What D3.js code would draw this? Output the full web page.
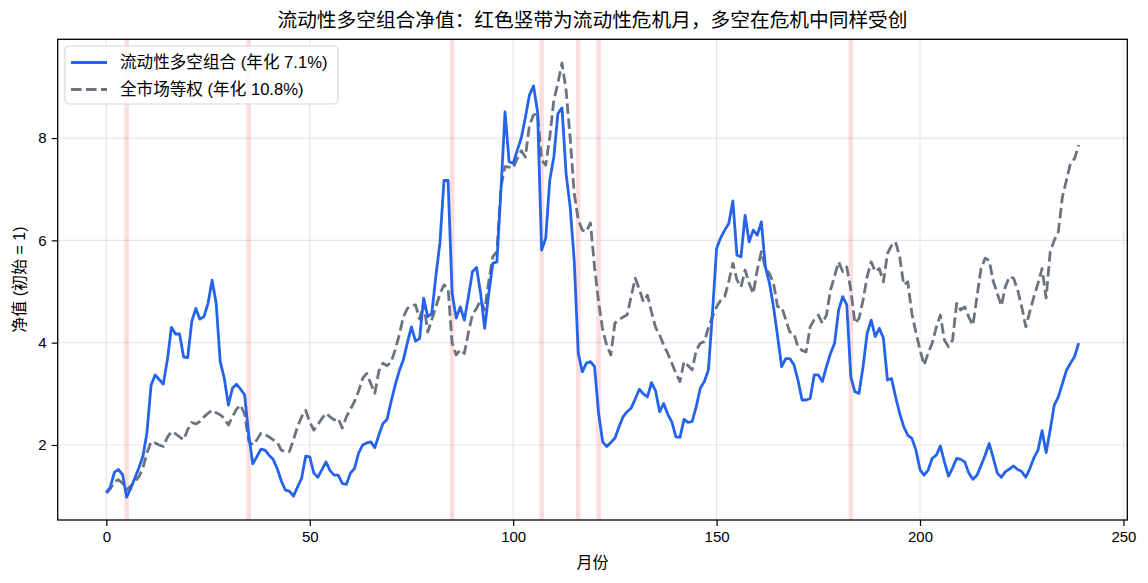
<!DOCTYPE html>
<html>
<head>
<meta charset="utf-8">
<script src="https://cdn.jsdelivr.net/npm/d3@7"></script>
<style>
  body { margin: 0; background: #fff; }
  svg text { font-family: "Liberation Sans", "Noto Sans CJK SC", sans-serif; }
</style>
</head>
<body>
<svg id="chart" width="1148" height="583"></svg>
<script>
// liquidity long-short portfolio net value, month 0..239
const liqLS = [
  1.07, 1.18, 1.47, 1.52, 1.42, 0.98, 1.15, 1.35, 1.55, 1.78,
  2.25, 3.17, 3.37, 3.28, 3.19, 3.66, 4.30, 4.17, 4.17, 3.72,
  3.71, 4.41, 4.67, 4.46, 4.51, 4.77, 5.22, 4.77, 3.63, 3.30,
  2.78, 3.11, 3.19, 3.09, 2.98, 2.20, 1.63, 1.77, 1.92, 1.90,
  1.80, 1.72, 1.54, 1.30, 1.12, 1.10, 1.00, 1.18, 1.35, 1.78,
  1.77, 1.45, 1.37, 1.52, 1.67, 1.50, 1.41, 1.41, 1.25, 1.23,
  1.45, 1.54, 1.84, 2.00, 2.04, 2.06, 1.95, 2.20, 2.42, 2.50,
  2.85, 3.17, 3.45, 3.66, 4.00, 4.31, 4.03, 4.08, 4.87, 4.51,
  4.57, 5.30, 5.95, 7.17, 7.17, 4.96, 4.48, 4.70, 4.44, 4.90,
  5.39, 5.47, 4.96, 4.28, 4.96, 5.55, 5.58, 6.98, 8.51, 7.54,
  7.50, 7.76, 8.00, 8.40, 8.84, 9.02, 8.51, 5.81, 6.04, 7.18,
  7.63, 8.48, 8.59, 7.31, 6.66, 5.61, 3.79, 3.43, 3.60, 3.63,
  3.53, 2.62, 2.06, 1.97, 2.05, 2.13, 2.35, 2.55, 2.65, 2.72,
  2.90, 3.09, 3.00, 2.94, 3.22, 3.06, 2.65, 2.81, 2.60, 2.45,
  2.16, 2.15, 2.50, 2.44, 2.46, 2.75, 3.11, 3.24, 3.47, 4.60,
  5.84, 6.05, 6.20, 6.33, 6.77, 5.71, 5.68, 6.49, 5.97, 6.20,
  6.10, 6.36, 5.48, 5.16, 4.70, 4.12, 3.53, 3.69, 3.69, 3.57,
  3.27, 2.88, 2.88, 2.91, 3.37, 3.37, 3.24, 3.53, 3.79, 3.99,
  4.64, 4.90, 4.74, 3.33, 3.04, 3.01, 3.53, 4.18, 4.44, 4.12,
  4.28, 4.09, 3.27, 3.30, 2.94, 2.62, 2.36, 2.19, 2.13, 1.90,
  1.52, 1.41, 1.51, 1.74, 1.80, 1.98, 1.67, 1.39, 1.55, 1.74,
  1.72, 1.67, 1.45, 1.33, 1.41, 1.60, 1.80, 2.03, 1.75, 1.45,
  1.37, 1.48, 1.53, 1.59, 1.52, 1.48, 1.37, 1.54, 1.75, 1.90,
  2.28, 1.85, 2.30, 2.78, 2.94, 3.20, 3.46, 3.60, 3.73, 3.99
];

// equal-weight market net value, month 0..239
const mktEW = [
  1.06, 1.15, 1.28, 1.32, 1.25, 1.12, 1.20, 1.28, 1.38, 1.55,
  1.85, 2.06, 2.04, 2.00, 1.97, 2.15, 2.26, 2.22, 2.16, 2.10,
  2.30, 2.44, 2.41, 2.46, 2.55, 2.62, 2.68, 2.63, 2.59, 2.52,
  2.39, 2.55, 2.70, 2.78, 2.60, 2.08, 2.00, 2.10, 2.23, 2.20,
  2.16, 2.10, 2.06, 1.90, 1.87, 1.87, 2.10, 2.36, 2.55, 2.68,
  2.45, 2.29, 2.40, 2.52, 2.62, 2.55, 2.49, 2.52, 2.33, 2.55,
  2.70, 2.85, 3.05, 3.30, 3.40, 3.20, 3.01, 3.45, 3.60, 3.55,
  3.62, 3.86, 4.15, 4.50, 4.67, 4.72, 4.74, 4.46, 4.77, 4.21,
  4.45, 4.70, 4.95, 5.13, 5.06, 3.99, 3.76, 3.86, 3.79, 4.20,
  4.55, 4.67, 4.83, 4.64, 5.20, 5.68, 5.78, 7.05, 7.44, 7.43,
  7.41, 7.60, 7.75, 7.63, 8.25, 8.45, 8.48, 7.57, 7.47, 8.02,
  8.74, 9.07, 9.47, 8.94, 8.02, 6.92, 6.40, 6.20, 6.17, 6.34,
  5.48, 4.80, 4.25, 3.95, 3.76, 4.38, 4.45, 4.50, 4.54, 4.90,
  5.26, 5.05, 4.80, 4.93, 4.60, 4.30, 4.15, 3.95, 3.79, 3.60,
  3.40, 3.24, 3.63, 3.55, 3.47, 3.85, 3.99, 4.02, 4.30, 4.51,
  4.70, 4.83, 4.90, 5.20, 5.55, 5.23, 5.09, 5.42, 5.16, 4.96,
  5.42, 5.78, 5.45, 5.35, 5.16, 4.70, 4.70, 4.45, 4.21, 4.18,
  3.92, 3.85, 3.82, 4.31, 4.45, 4.54, 4.38, 4.54, 5.03, 5.30,
  5.58, 5.39, 5.48, 5.03, 4.38, 4.47, 4.83, 5.29, 5.58, 5.39,
  5.45, 5.19, 5.74, 5.90, 5.97, 5.68, 5.13, 5.19, 4.57, 4.20,
  3.86, 3.56, 3.80, 3.99, 4.30, 4.54, 4.05, 3.92, 4.05, 4.77,
  4.64, 4.70, 4.50, 4.34, 4.90, 5.45, 5.65, 5.61, 5.20, 4.96,
  4.72, 5.10, 5.29, 5.26, 5.03, 4.70, 4.31, 4.61, 4.90, 5.16,
  5.45, 4.87, 5.78, 6.00, 6.17, 6.85, 7.18, 7.51, 7.60, 7.86
];

// liquidity crisis months
const crisisMonths = [5, 35, 85, 107, 116, 121, 183];

const xTicks = [0, 50, 100, 150, 200, 250];
const yTicks = [2, 4, 6, 8];

const seriesNames = ['流动性多空组合 (年化 7.1%)', '全市场等权 (年化 10.8%)'];
const seriesColors = ['#2563eb', '#6b7280'];
const titleText = '流动性多空组合净值：红色竖带为流动性危机月，多空在危机中同样受创';

let svg = d3.select('#chart');

let margin = {left: 57.7, right: 1127.3, top: 39.3, bottom: 520};

let x = d3.scaleLinear()
          .domain([-11.95, 250.95])
          .range([margin.left, margin.right]);

let y = d3.scaleLinear()
          .domain([0.534, 9.93])
          .range([margin.bottom, margin.top]);

// clip for plot area
svg.append('defs').append('clipPath').attr('id', 'clip')
    .append('rect')
    .attr('x', margin.left).attr('y', margin.top)
    .attr('width', margin.right - margin.left)
    .attr('height', margin.bottom - margin.top);

let plot = svg.append('g').attr('clip-path', 'url(#clip)');

// grid
plot.selectAll('line.gx').data(xTicks).enter()
    .append('line')
    .attr('x1', d => x(d)).attr('x2', d => x(d))
    .attr('y1', margin.top).attr('y2', margin.bottom)
    .attr('stroke', '#b0b0b0').attr('stroke-opacity', 0.3).attr('stroke-width', 1.2);
plot.selectAll('line.gy').data(yTicks).enter()
    .append('line')
    .attr('x1', margin.left).attr('x2', margin.right)
    .attr('y1', d => y(d)).attr('y2', d => y(d))
    .attr('stroke', '#b0b0b0').attr('stroke-opacity', 0.3).attr('stroke-width', 1.2);

// crisis bands
plot.selectAll('rect.band').data(crisisMonths).enter()
    .append('rect')
    .attr('x', d => x(d - 0.55))
    .attr('width', d => x(d + 0.55) - x(d - 0.55))
    .attr('y', margin.top)
    .attr('height', margin.bottom - margin.top)
    .attr('fill', '#e8483c')
    .attr('fill-opacity', 0.18);

let line = d3.line()
             .x((d, i) => x(i))
             .y(d => y(d));

plot.append('path')
    .datum(mktEW)
    .attr('d', line)
    .attr('fill', 'none')
    .attr('stroke', seriesColors[1])
    .attr('stroke-width', 2.8)
    .attr('stroke-dasharray', '10.5,4.5')
    .attr('stroke-linejoin', 'round');

plot.append('path')
    .datum(liqLS)
    .attr('d', line)
    .attr('fill', 'none')
    .attr('stroke', seriesColors[0])
    .attr('stroke-width', 2.8)
    .attr('stroke-linejoin', 'round');

// axes
let xAxis = d3.axisBottom(x).tickValues(xTicks).tickSize(6).tickPadding(5);
let gx = svg.append('g')
    .attr('transform', 'translate(0,' + margin.bottom + ')')
    .call(xAxis);
let yAxis = d3.axisLeft(y).tickValues(yTicks).tickSize(6).tickPadding(5);
let gy = svg.append('g')
    .attr('transform', 'translate(' + margin.left + ',0)')
    .call(yAxis);
[gx, gy].forEach(g => {
    g.select('.domain').remove();
    g.selectAll('text').attr('font-size', 15).attr('fill', '#000')
     .style('font-family', '"Liberation Sans", sans-serif');
    g.selectAll('line').attr('stroke', '#000').attr('stroke-width', 1.2);
});

// frame
svg.append('rect')
    .attr('x', margin.left).attr('y', margin.top)
    .attr('width', margin.right - margin.left)
    .attr('height', margin.bottom - margin.top)
    .attr('fill', 'none').attr('stroke', '#000').attr('stroke-width', 1.3);

// labels
svg.append('text')
    .attr('x', (margin.left + margin.right) / 2).attr('y', 27)
    .attr('text-anchor', 'middle').attr('font-size', 19.7)
    .text(titleText);
svg.append('text')
    .attr('x', (margin.left + margin.right) / 2).attr('y', 568)
    .attr('text-anchor', 'middle').attr('font-size', 16)
    .text('月份');
svg.append('text')
    .attr('transform', 'translate(25,' + ((margin.top + margin.bottom) / 2) + ') rotate(-90)')
    .attr('text-anchor', 'middle').attr('font-size', 16)
    .text('净值 (初始 = 1)');

// legend
let legend = svg.append('g').attr('transform', 'translate(65,46)');
legend.append('rect')
    .attr('width', 273).attr('height', 58).attr('rx', 4)
    .attr('fill', '#fff').attr('fill-opacity', 0.8)
    .attr('stroke', '#d8d8d8').attr('stroke-width', 1.2);
let legendItems = legend.selectAll('g.item')
    .data(seriesNames).enter()
    .append('g')
    .attr('transform', (d, i) => 'translate(0,' + (16.5 + i * 27) + ')');
legendItems.append('line')
    .attr('x1', 6).attr('x2', 42).attr('y1', 0).attr('y2', 0)
    .attr('stroke', (d, i) => seriesColors[i])
    .attr('stroke-width', 2.8)
    .attr('stroke-dasharray', (d, i) => i === 0 ? null : '10.5,4.5');
legendItems.append('text')
    .attr('x', 55).attr('y', 5.5)
    .attr('font-size', 16.6)
    .text(d => d);
</script>
</body>
</html>
